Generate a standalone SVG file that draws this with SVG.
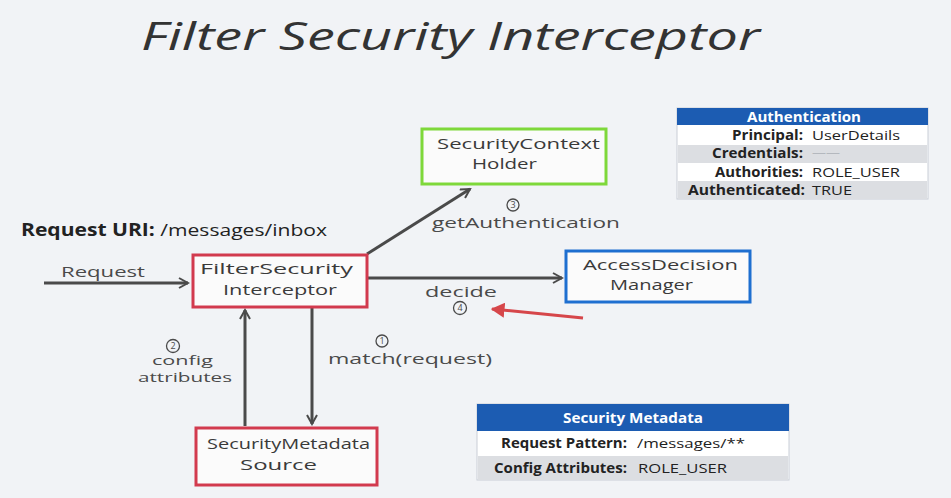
<svg xmlns="http://www.w3.org/2000/svg" width="951" height="498" viewBox="0 0 951 498">
<defs>
<style>
.hand{font-family:"Open Sans","DejaVu Sans",sans-serif;font-size:14px;fill:#3a3a3a}
.lbl{font-family:"Open Sans","DejaVu Sans",sans-serif;font-size:14px;fill:#4a4a4a}
.lbs{font-family:"Open Sans","DejaVu Sans",sans-serif;font-size:12px;fill:#4a4a4a}
.num{font-family:"Open Sans","DejaVu Sans",sans-serif;font-size:9px;fill:#4a4a4a;text-anchor:middle}
.circ{fill:none;stroke:#4a4a4a;stroke-width:1.3}
.conn{stroke:#4a4a4a;stroke-width:3;fill:none}
.tb{font-family:"Open Sans","Liberation Sans",sans-serif;font-size:13.5px;font-weight:bold;fill:#222}
.tv{font-family:"Open Sans","Liberation Sans",sans-serif;font-size:13.5px;fill:#222}
.th{font-family:"Open Sans","Liberation Sans",sans-serif;font-size:14px;font-weight:bold;fill:#ffffff}
</style>
<marker id="ah" viewBox="0 0 12 12" refX="10" refY="6" markerWidth="4" markerHeight="4" orient="auto" markerUnits="strokeWidth">
<path d="M1,1 L10,6 L1,11" fill="none" stroke="#4a4a4a" stroke-width="2"/>
</marker>
<marker id="ahr" viewBox="0 0 12 12" refX="10" refY="6" markerWidth="5" markerHeight="5" orient="auto" markerUnits="strokeWidth">
<path d="M0,0 L11,6 L0,12 Z" fill="#d6464a"/>
</marker>
</defs>
<rect width="951" height="498" fill="#f1f3f6"/>
<text x="141" y="50" font-family="Open Sans, DejaVu Sans, sans-serif" font-style="italic" font-size="38" fill="#333" textLength="619" lengthAdjust="spacingAndGlyphs">Filter Security Interceptor</text>
<text x="21" y="236" font-family="Open Sans, Liberation Sans, sans-serif" font-size="17" fill="#222" textLength="306" lengthAdjust="spacingAndGlyphs"><tspan font-weight="bold">Request URI:</tspan>  /messages/inbox</text>

<g id="connectors">
<line class="conn" x1="44" y1="283" x2="188" y2="283" marker-end="url(#ah)"/>
<line class="conn" x1="367" y1="254" x2="470" y2="189" marker-end="url(#ah)"/>
<line class="conn" x1="368" y1="278" x2="562" y2="278" marker-end="url(#ah)"/>
<line class="conn" x1="245" y1="426" x2="245" y2="310" marker-end="url(#ah)"/>
<line class="conn" x1="312" y1="308" x2="312" y2="424" marker-end="url(#ah)"/>
<line x1="583" y1="318" x2="492" y2="309" stroke="#d6464a" stroke-width="3" marker-end="url(#ahr)"/>
<text class="lbl" x="61" y="277" textLength="84" lengthAdjust="spacingAndGlyphs">Request</text>
<circle class="circ" cx="513" cy="205" r="6"/><text class="num" x="513" y="208">3</text>
<text class="lbl" x="432" y="228" textLength="188" lengthAdjust="spacingAndGlyphs">getAuthentication</text>
<text class="lbl" x="425" y="297" textLength="72" lengthAdjust="spacingAndGlyphs">decide</text>
<circle class="circ" cx="460" cy="308" r="6.5"/><text class="num" x="460" y="311">4</text>
<circle class="circ" cx="173" cy="346" r="6.5"/><text class="num" x="173" y="349">2</text>
<text class="lbs" x="152" y="365" textLength="61" lengthAdjust="spacingAndGlyphs">config</text>
<text class="lbs" x="138" y="382" textLength="94" lengthAdjust="spacingAndGlyphs">attributes</text>
<circle class="circ" cx="382" cy="341" r="6"/><text class="num" x="382" y="344">1</text>
<text class="lbl" x="328" y="364" textLength="164" lengthAdjust="spacingAndGlyphs">match(request)</text>
</g>

<g id="filterSecurityInterceptor">
<rect x="193" y="255" width="174" height="52" fill="#fbfbfb" stroke="#d23a4e" stroke-width="3"/>
<text class="hand" x="200" y="274" textLength="153" lengthAdjust="spacingAndGlyphs">FilterSecurity</text>
<text class="hand" x="223" y="295" textLength="114" lengthAdjust="spacingAndGlyphs">Interceptor</text>
</g>
<g id="securityContextHolder">
<rect x="422" y="129" width="184" height="55" fill="#fbfbfb" stroke="#7ed83a" stroke-width="3"/>
<text class="hand" x="437" y="149" textLength="163" lengthAdjust="spacingAndGlyphs">SecurityContext</text>
<text class="hand" x="472" y="169" textLength="65" lengthAdjust="spacingAndGlyphs">Holder</text>
</g>
<g id="accessDecisionManager">
<rect x="566" y="251" width="184" height="51" fill="#fbfbfb" stroke="#1e6fd0" stroke-width="3"/>
<text class="hand" x="583" y="270" textLength="155" lengthAdjust="spacingAndGlyphs">AccessDecision</text>
<text class="hand" x="610" y="290" textLength="83" lengthAdjust="spacingAndGlyphs">Manager</text>
</g>
<g id="securityMetadataSource">
<rect x="196" y="428" width="181" height="57" fill="#fbfbfb" stroke="#d23a4e" stroke-width="3"/>
<text class="hand" x="207" y="449" textLength="163" lengthAdjust="spacingAndGlyphs">SecurityMetadata</text>
<text class="hand" x="240" y="470" textLength="77" lengthAdjust="spacingAndGlyphs">Source</text>
</g>

<g id="authentication">
<rect x="677" y="108" width="251" height="91" fill="#ffffff" stroke="#c9ced6" stroke-width="1"/>
<rect x="677" y="108" width="251" height="17" fill="#1c5cb2"/>
<rect x="678" y="145" width="249" height="18" fill="#dcdee2"/>
<rect x="678" y="181" width="249" height="18" fill="#dcdee2"/>
<text class="th" x="747" y="122" textLength="114" lengthAdjust="spacingAndGlyphs">Authentication</text>
<text class="tb" x="732" y="140" textLength="71" lengthAdjust="spacingAndGlyphs">Principal:</text>
<text class="tv" x="812" y="140" textLength="88" lengthAdjust="spacingAndGlyphs">UserDetails</text>
<text class="tb" x="712" y="158" textLength="91" lengthAdjust="spacingAndGlyphs">Credentials:</text>
<text class="tv" x="812" y="157" style="fill:#b4b8be" textLength="28" lengthAdjust="spacingAndGlyphs">——</text>
<text class="tb" x="715" y="177" textLength="88" lengthAdjust="spacingAndGlyphs">Authorities:</text>
<text class="tv" x="812" y="177" textLength="88" lengthAdjust="spacingAndGlyphs">ROLE_USER</text>
<text class="tb" x="688" y="195" textLength="117" lengthAdjust="spacingAndGlyphs">Authenticated:</text>
<text class="tv" x="812" y="195" textLength="40" lengthAdjust="spacingAndGlyphs">TRUE</text>
</g>

<g id="securityMetadata">
<rect x="477" y="404" width="312" height="76" fill="#ffffff" stroke="#c9ced6" stroke-width="1"/>
<rect x="477" y="404" width="312" height="27" fill="#1c5cb2"/>
<rect x="478" y="456" width="310" height="24" fill="#dcdee2"/>
<text class="th" x="563" y="423" textLength="140" lengthAdjust="spacingAndGlyphs">Security Metadata</text>
<text class="tb" x="501" y="448" textLength="126" lengthAdjust="spacingAndGlyphs">Request Pattern:</text>
<text class="tv" x="637" y="448" textLength="108" lengthAdjust="spacingAndGlyphs">/messages/**</text>
<text class="tb" x="494" y="473" textLength="133" lengthAdjust="spacingAndGlyphs">Config Attributes:</text>
<text class="tv" x="638" y="473" textLength="89" lengthAdjust="spacingAndGlyphs">ROLE_USER</text>
</g>
</svg>
